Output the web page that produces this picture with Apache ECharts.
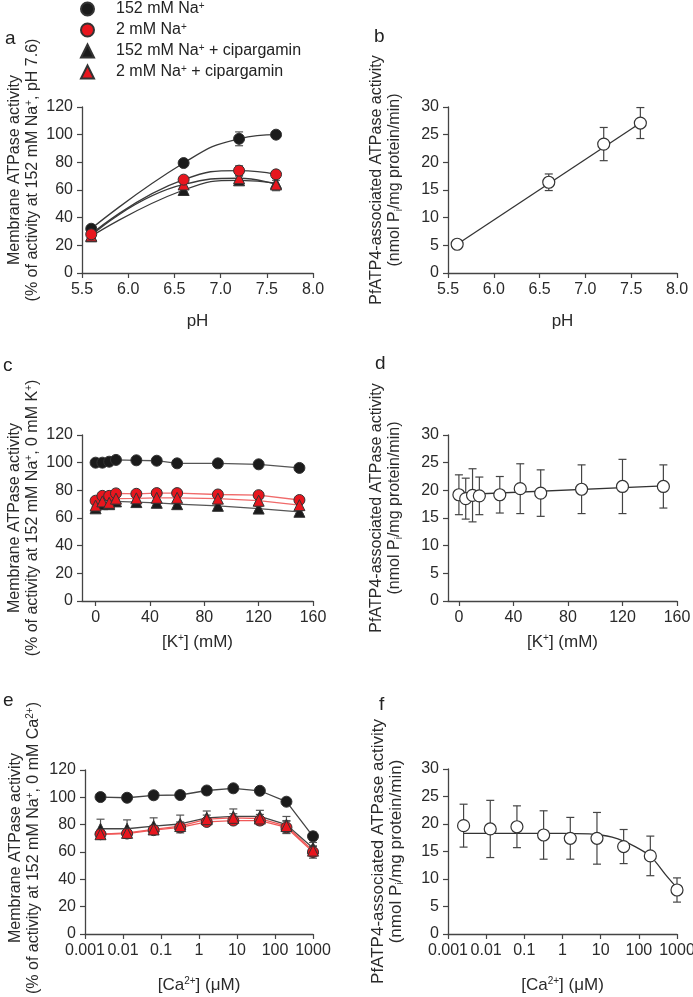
<!DOCTYPE html>
<html><head><meta charset="utf-8">
<script src="https://cdn.jsdelivr.net/npm/echarts@6/dist/echarts.min.js"></script>
<style>html,body{margin:0;padding:0;background:#fff}#c{width:693px;height:997px}</style>
</head><body><div id="c"></div>
<script>
// ---------- data ----------
const phX = [5.6, 6.6, 7.2, 7.6];
const aNa152 = [32, 79.5, 97, 100];
const aNa152Err = [1.5, 1, 5, 1];
const aNa2 = [28, 67.5, 74, 71.3];
const aNa2Err = [1.5, 2, 3.5, 2];
const aNa152Cip = [26.5, 60, 67, 65];
const aNa152CipErr = [1.5, 1.5, 3, 2];
const aNa2Cip = [27, 64, 68.5, 64];
const aNa2CipErr = [1.5, 2, 3, 4.5];

const bY = [5.2, 16.4, 23.3, 27.1];
const bErr = [0.4, 1.5, 3.0, 2.8];
const bFitX = [5.6, 7.6];
const bFitY = [5.2, 27.1];

const kX = [0, 5, 10, 15, 30, 45, 60, 90, 120, 150];
const cNa152 = [100, 100, 100.7, 102, 101.7, 101.4, 99.5, 99.5, 98.8, 96.2];
const cNa152Err = [0.8, 0.8, 0.8, 1, 0.8, 0.8, 0.8, 1, 1.5, 1.5];
const cNa2 = [72.5, 76, 76, 77.8, 77.5, 78, 78, 77, 76.5, 73];
const cNa2Err = [2, 2, 2, 2, 2, 2, 2, 2, 2, 2];
const cNa152Cip = [67, 70, 70, 72, 71.5, 71, 70, 68.8, 66.8, 64.5];
const cNa152CipErr = [1.5, 1.5, 1.5, 1.5, 1.5, 1.5, 1.5, 1.5, 1.5, 1.5];
const cNa2Cip = [69, 72, 71, 74, 74.2, 74.6, 74.6, 74, 72.5, 69.3];
const cNa2CipErr = [2, 2, 2, 2, 2, 2, 2, 2, 2, 2];

const dY = [19.2, 18.5, 19.1, 19.0, 19.2, 20.3, 19.5, 20.2, 20.7, 20.7];
const dErr = [3.6, 3.7, 4.8, 3.4, 3.3, 4.5, 4.2, 4.4, 4.9, 3.9];
const dFitX = [0, 150];
const dFitY = [19.2, 20.8];

const caX = [0.00256, 0.0128, 0.064, 0.32, 1.6, 8, 40, 200, 1000];
const eNa152 = [100.2, 99.7, 101.5, 101.7, 105, 106.6, 104.8, 96.8, 71.5];
const eNa152Err = [1, 1, 2.5, 1.2, 1, 1, 1.2, 1, 3];
const eNa152Cip = [77, 77, 79, 80.5, 85, 86, 86, 80, 63];
const eNa152CipErr = [7, 6.5, 6, 6.5, 5, 5.5, 4.5, 6, 4];
const eNa2 = [73, 73.5, 76, 78, 82, 83, 83, 78, 60];
const eNa2Err = [3, 3.5, 3, 3, 2.5, 2.5, 3, 4.5, 4.5];
const eNa2Cip = [73, 74, 76.5, 79, 84, 85, 84.5, 79, 61];
const eNa2CipErr = [3, 3, 3, 3, 3, 3, 3, 4, 3];

const fY = [19.7, 19.1, 19.5, 18.0, 17.4, 17.4, 15.9, 14.2, 8.0];
const fErr = [3.9, 5.2, 3.8, 4.4, 3.8, 4.7, 3.1, 3.6, 2.2];
const fFitX = [0.00256, 1, 5, 10, 20, 40, 80, 150, 200, 300, 500, 1000];
const fFitY = [18.3, 18.3, 18.2, 18.0, 17.6, 16.9, 15.9, 14.8, 14.2, 12.8, 10.8, 8.4];

const pctTicks = [0, 20, 40, 60, 80, 100, 120];
const actTicks = [0, 5, 10, 15, 20, 25, 30];
const phTicks = [5.5, 6.0, 6.5, 7.0, 7.5, 8.0];
const kTicks = [0, 40, 80, 120, 160];
const caTicks = [0.001, 0.01, 0.1, 1, 10, 100, 1000];

const legendLabels = {
  na152: '152 mM Na{sup|+}',
  na2: '2 mM Na{sup|+}',
  na152cip: '152 mM Na{sup|+} + cipargamin',
  na2cip: '2 mM Na{sup|+} + cipargamin'
};

// ---------- styling ----------
const FONT = 'Liberation Sans, Arial, sans-serif';
const AX = '#444';
const BLACK = '#1b1b1b';
const RED = '#e8161e';
const EDGE = '#333';
function richFor(lh) {
  return {
    sup: {fontSize: 10, verticalAlign: 'top', lineHeight: lh, fontFamily: FONT, color: '#2a2a2a'},
    sub: {fontSize: 10, verticalAlign: 'bottom', lineHeight: lh, fontFamily: FONT, color: '#2a2a2a'}
  };
}

const pts = (xs, ys) => xs.map((x, i) => [x, ys[i]]);
const errPts = (xs, ys, es) => xs.map((x, i) => [x, ys[i] - es[i], ys[i] + es[i]]);

function errSeries(g, xs, ys, es, color) {
  return {
    type: 'custom', xAxisIndex: g, yAxisIndex: g, z: 3, silent: true,
    encode: {x: 0, y: [1, 2]},
    data: errPts(xs, ys, es),
    renderItem: function (params, api) {
      const x = api.value(0), lo = api.value(1), hi = api.value(2);
      const t = api.coord([x, hi]), b = api.coord([x, lo]);
      const hw = 4;
      const st = {stroke: color, lineWidth: 1.2};
      return {type: 'group', children: [
        {type: 'line', shape: {x1: t[0], y1: t[1], x2: b[0], y2: b[1]}, style: st},
        {type: 'line', shape: {x1: t[0] - hw, y1: t[1], x2: t[0] + hw, y2: t[1]}, style: st},
        {type: 'line', shape: {x1: b[0] - hw, y1: b[1], x2: b[0] + hw, y2: b[1]}, style: st}
      ]};
    }
  };
}
function lineSeries(g, xs, ys, color, smooth, nm) {
  return {type: 'line', name: nm, xAxisIndex: g, yAxisIndex: g, z: 2, silent: true,
    data: pts(xs, ys), showSymbol: false, symbol: 'none', smooth: smooth || false,
    lineStyle: {color: color, width: 1.3}};
}
function markSeries(g, name, xs, ys, symbol, fill, size) {
  return {type: 'scatter', name: name, xAxisIndex: g, yAxisIndex: g, z: 4, silent: true,
    data: pts(xs, ys), symbol: symbol, symbolSize: size || 11,
    itemStyle: {color: fill, borderColor: EDGE, borderWidth: 1, opacity: 1}};
}
function openSeries(g, xs, ys) {
  return {type: 'scatter', name: 'open' + g, xAxisIndex: g, yAxisIndex: g, z: 4, silent: true,
    data: pts(xs, ys), symbol: 'circle', symbolSize: 12,
    itemStyle: {color: '#fff', borderColor: '#333', borderWidth: 1.2, opacity: 1}};
}

const axisCommon = {
  axisLine: {show: true, onZero: false, lineStyle: {color: AX, width: 1.3}},
  axisTick: {show: true, inside: false, length: 5, lineStyle: {color: AX, width: 1.2}},
  splitLine: {show: false},
  axisLabel: {fontSize: 16, color: '#2a2a2a', fontFamily: FONT, margin: 9}
};
function xAxisDef(g, type, min, max, ticks, name, nameGap, fmt) {
  return Object.assign({}, axisCommon, {
    gridIndex: g, type: type, min: min, max: max, logBase: 10,
    axisLabel: Object.assign({}, axisCommon.axisLabel, {customValues: ticks, formatter: fmt, showMinLabel: true, showMaxLabel: true}),
    axisTick: Object.assign({}, axisCommon.axisTick, {customValues: ticks}),
    name: name, nameLocation: 'middle', nameGap: nameGap,
    nameTextStyle: {fontSize: 17, color: '#2a2a2a', fontFamily: FONT, rich: richFor(18)}
  });
}
function yAxisDef(g, max, ticks, name, nameGap, shift, fs) {
  return Object.assign({}, axisCommon, {
    gridIndex: g, type: 'value', min: 0, max: max,
    axisLabel: Object.assign({}, axisCommon.axisLabel, {customValues: ticks}),
    axisTick: Object.assign({}, axisCommon.axisTick, {customValues: ticks}),
    name: name, nameLocation: 'middle', nameRotate: 90, nameGap: nameGap,
    nameTextStyle: {fontSize: fs || 16, lineHeight: 18, color: '#2a2a2a', fontFamily: FONT, rich: richFor(18),
      padding: shift >= 0 ? [0, 0, 0, shift] : [0, -shift, 0, 0]}
  });
}

const fmt1 = v => Number(v).toFixed(1);
const fmtInt = v => String(Math.round(v));
const fmtLog = v => String(Number(Number(v).toPrecision(1)));

const yNameMem = tail => 'Membrane ATPase activity\n(% of activity at 152 mM Na{sup|+}, ' + tail + ')';
const yNamePf = 'PfATP4-associated ATPase activity\n(nmol P{sub|i}/mg protein/min)';

const gridBox = (l, t, w, h) => ({left: l, top: t, width: w, height: h, outerBoundsMode: 'none', containLabel: false});

const chart = echarts.init(document.getElementById('c'), null, {renderer: 'canvas'});
const letter = (t, l, tp) => ({type: 'text', left: l, top: tp, style: {text: t, fontSize: 19, fill: '#222', fontFamily: FONT}});
const option = {
  backgroundColor: '#fff',
  animation: false,
  textStyle: {fontFamily: FONT},
  legend: {
    orient: 'vertical', left: 80, top: 1, padding: 0, itemWidth: 13, itemHeight: 13, itemGap: 5,
    selectedMode: false,
    data: [
      {name: 'na152', icon: 'circle'},
      {name: 'na2', icon: 'circle'},
      {name: 'na152cip', icon: 'triangle'},
      {name: 'na2cip', icon: 'triangle'}
    ],
    formatter: n => legendLabels[n],
    textStyle: {fontSize: 16, color: '#222', fontFamily: FONT, lineHeight: 16, padding: [0, 0, 0, 17], rich: richFor(16)}
  },
  grid: [
    gridBox(82, 107, 231, 166),
    gridBox(448, 107, 229, 166),
    gridBox(82, 435, 231, 166),
    gridBox(448, 435, 229, 166),
    gridBox(85, 770, 228, 164),
    gridBox(448, 769, 229, 165)
  ],
  xAxis: [
    xAxisDef(0, 'value', 5.5, 8, phTicks, 'pH', 40, fmt1),
    xAxisDef(1, 'value', 5.5, 8, phTicks, 'pH', 40, fmt1),
    xAxisDef(2, 'value', -10, 160, kTicks, '[K{sup|+}] (mM)', 32, fmtInt),
    xAxisDef(3, 'value', -8, 160, kTicks, '[K{sup|+}] (mM)', 32, fmtInt),
    xAxisDef(4, 'log', 0.001, 1000, caTicks, '[Ca{sup|2+}] (μM)', 42, fmtLog),
    xAxisDef(5, 'log', 0.001, 1000, caTicks, '[Ca{sup|2+}] (μM)', 42, fmtLog)
  ],
  yAxis: [
    yAxisDef(0, 120, pctTicks, yNameMem('pH 7.6'), 40, 40),
    yAxisDef(1, 30, actTicks, yNamePf, 44, 20),
    yAxisDef(2, 120, pctTicks, yNameMem('0 mM K{sup|+}'), 40, 0),
    yAxisDef(3, 30, actTicks, yNamePf, 44, 20),
    yAxisDef(4, 120, pctTicks, yNameMem('0 mM Ca{sup|2+}'), 42, 8),
    yAxisDef(5, 30, actTicks, yNamePf, 43, 0, 17)
  ],
  graphic: [
    letter('a', 5, 29),
    letter('b', 374, 27),
    letter('c', 3, 356),
    letter('d', 375, 354),
    letter('e', 3, 691),
    letter('f', 379, 695)
  ],
  series: [
    // panel a
    lineSeries(0, phX, aNa152, '#3a3a3a', 0.5, 'fa1'),
    lineSeries(0, phX, aNa2, '#3a3a3a', 0.5, 'fa2'),
    lineSeries(0, phX, aNa152Cip, '#3a3a3a', 0.5, 'fa3'),
    lineSeries(0, phX, aNa2Cip, '#3a3a3a', 0.5, 'fa4'),
    errSeries(0, phX, aNa152, aNa152Err, '#555'),
    errSeries(0, phX, aNa2, aNa2Err, '#555'),
    errSeries(0, phX, aNa152Cip, aNa152CipErr, '#555'),
    errSeries(0, phX, aNa2Cip, aNa2CipErr, '#555'),
    markSeries(0, 'na152cip', phX, aNa152Cip, 'triangle', BLACK),
    markSeries(0, 'na2cip', phX, aNa2Cip, 'triangle', RED),
    markSeries(0, 'na152', phX, aNa152, 'circle', BLACK),
    markSeries(0, 'na2', phX, aNa2, 'circle', RED),
    // panel b
    lineSeries(1, bFitX, bFitY, '#333', false, 'fb'),
    errSeries(1, phX, bY, bErr, '#444'),
    openSeries(1, phX, bY),
    // panel c
    lineSeries(2, kX, cNa152, '#555', false, 'fc1'),
    lineSeries(2, kX, cNa2, '#f06a6a', false, 'fc2'),
    lineSeries(2, kX, cNa152Cip, '#555', false, 'fc3'),
    lineSeries(2, kX, cNa2Cip, '#f06a6a', false, 'fc4'),
    errSeries(2, kX, cNa152, cNa152Err, '#666'),
    errSeries(2, kX, cNa2, cNa2Err, '#666'),
    errSeries(2, kX, cNa152Cip, cNa152CipErr, '#666'),
    errSeries(2, kX, cNa2Cip, cNa2CipErr, '#666'),
    markSeries(2, 'na152', kX, cNa152, 'circle', BLACK),
    markSeries(2, 'na152cip', kX, cNa152Cip, 'triangle', BLACK),
    markSeries(2, 'na2', kX, cNa2, 'circle', RED),
    markSeries(2, 'na2cip', kX, cNa2Cip, 'triangle', RED),
    // panel d
    lineSeries(3, dFitX, dFitY, '#333', false, 'fd'),
    errSeries(3, kX, dY, dErr, '#444'),
    openSeries(3, kX, dY),
    // panel e
    lineSeries(4, caX, eNa152, '#444', false, 'fe1'),
    lineSeries(4, caX, eNa152Cip, '#444', false, 'fe2'),
    lineSeries(4, caX, eNa2, '#f05858', false, 'fe3'),
    lineSeries(4, caX, eNa2Cip, '#f05858', false, 'fe4'),
    errSeries(4, caX, eNa152, eNa152Err, '#555'),
    errSeries(4, caX, eNa152Cip, eNa152CipErr, '#555'),
    errSeries(4, caX, eNa2, eNa2Err, '#555'),
    errSeries(4, caX, eNa2Cip, eNa2CipErr, '#555'),
    markSeries(4, 'na152', caX, eNa152, 'circle', BLACK),
    markSeries(4, 'na152cip', caX, eNa152Cip, 'triangle', BLACK),
    markSeries(4, 'na2', caX, eNa2, 'circle', RED),
    markSeries(4, 'na2cip', caX, eNa2Cip, 'triangle', RED),
    // panel f
    lineSeries(5, fFitX, fFitY, '#333', 0.3, 'ff'),
    errSeries(5, caX, fY, fErr, '#444'),
    openSeries(5, caX, fY)
  ]
};
chart.setOption(option);
</script>
</body></html>
